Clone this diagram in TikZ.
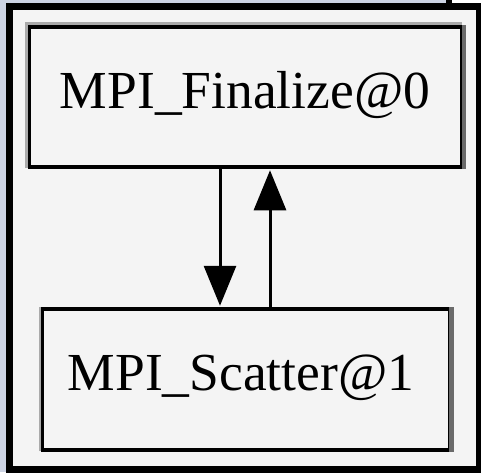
\documentclass[tikz,border=0pt]{standalone}
\usepackage{fontspec}
\setmainfont{Liberation Serif}
\usetikzlibrary{arrows.meta,calc}
\definecolor{bgblue}{HTML}{CDD4E4}
\definecolor{panel}{HTML}{F4F4F4}
\definecolor{edgegray}{HTML}{6A6A6A}
\definecolor{halo}{HTML}{AAAAAA}
\tikzset{
  box/.style={draw=black, fill=panel, line width=3.5pt, inner sep=0pt, rectangle},
  lbl/.style={inner sep=0pt, anchor=base, font=\fontsize{53.5}{60}\selectfont},
  arr/.style={line width=3pt, -{Triangle[length=40pt,width=32pt]}},
}
\begin{document}
\begin{tikzpicture}[x=1pt,y=-1pt]
\useasboundingbox (0,0) rectangle (481,472);
% backdrop
\fill[bgblue] (0,0) rectangle (481,472);
\fill[white] (452,0) rectangle (481,3);
\fill[black] (446,0) rectangle (452,4);
% outer frame
\draw[fill=panel, line width=7pt] (9.5,6.5) rectangle (479.5,469.5);
% box 1
\draw[halo, line width=3pt] (26.5,168) -- (26.5,23.5) -- (462,23.5);
\node[box, minimum width=432.5pt, minimum height=140pt] (b1) at (245.75,97) {};
\draw[edgegray, line width=4.5pt] (b1.north east) -- (b1.south east);
\node[lbl] (t1) at (245,108) {MPI\_Finalize@0};
% box 2
\draw[halo, line width=2.5pt] (40,451) -- (40,307);
\node[box, minimum width=407.5pt, minimum height=141pt] (b2) at (246.25,379.5) {};
\draw[edgegray, line width=5pt] (b2.north east) -- (b2.south east);
\node[lbl] (t2) at (241,390) {MPI\_Scatter@1};
% edges
\coordinate (d1) at (220,0);
\coordinate (u1) at (270,0);
\draw[arr] (b1.south -| d1) -- ($(b2.north -| d1)+(0,-1.5)$);
\draw[arr] (b2.north -| u1) -- ($(b1.south -| u1)+(0,1.5)$);
\end{tikzpicture}
\end{document}
